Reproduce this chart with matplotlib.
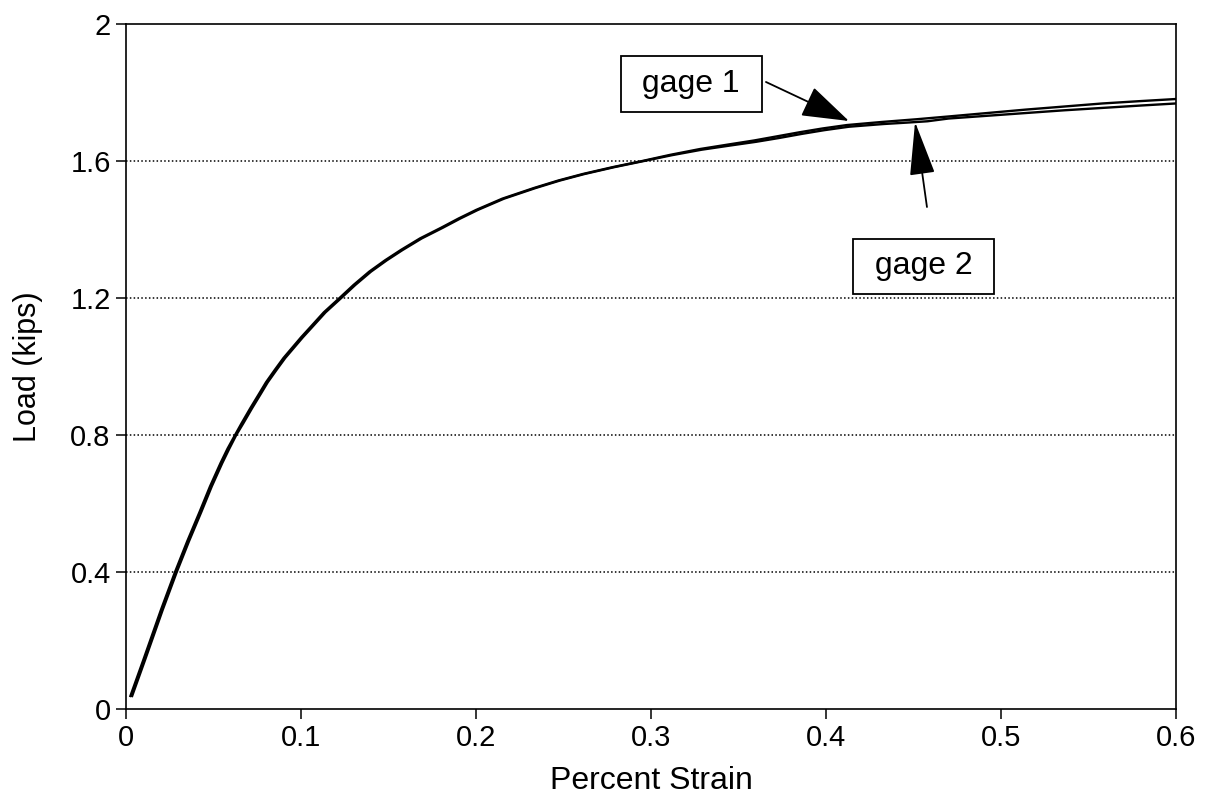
"""
Load vs percent strain for two strain gages
"""
import matplotlib.pyplot as plt

plt.rcParams['font.family'] = ['Liberation Sans', 'DejaVu Sans']

# gage readings (percent strain, load in kips)
strain_g1 = [0.0025, 0.010, 0.020, 0.028, 0.035, 0.042, 0.048, 0.054, 0.058,
             0.0623, 0.066, 0.071, 0.076, 0.080, 0.085, 0.090, 0.095, 0.100,
             0.105, 0.113, 0.122, 0.130, 0.139, 0.148, 0.157, 0.168, 0.180,
             0.190, 0.200, 0.215, 0.233, 0.247, 0.261, 0.278, 0.295, 0.311,
             0.328, 0.344, 0.359, 0.372, 0.385, 0.398, 0.412, 0.432, 0.452,
             0.470, 0.492, 0.514, 0.536, 0.558, 0.580, 0.600]
load_g1 = [0.038, 0.145, 0.29, 0.40, 0.49, 0.575, 0.650, 0.718, 0.760,
           0.80, 0.834, 0.878, 0.920, 0.954, 0.99, 1.025, 1.055, 1.085,
           1.113, 1.158, 1.20, 1.238, 1.277, 1.31, 1.340, 1.374, 1.405,
           1.432, 1.457, 1.49, 1.521, 1.543, 1.562, 1.582, 1.600, 1.618,
           1.635, 1.648, 1.660, 1.672, 1.684, 1.695, 1.705, 1.714, 1.722,
           1.730, 1.740, 1.750, 1.759, 1.768, 1.775, 1.781]

strain_g2 = [0.0035, 0.011, 0.021, 0.029, 0.036, 0.043, 0.049, 0.055, 0.059,
             0.0630, 0.067, 0.072, 0.077, 0.081, 0.086, 0.091, 0.096, 0.101,
             0.106, 0.114, 0.123, 0.131, 0.140, 0.149, 0.158, 0.169, 0.181,
             0.191, 0.201, 0.216, 0.234, 0.248, 0.262, 0.279, 0.296, 0.312,
             0.329, 0.345, 0.360, 0.373, 0.386, 0.399, 0.413, 0.433, 0.446,
             0.458, 0.470, 0.492, 0.514, 0.536, 0.558, 0.580, 0.600]
load_g2 = [0.038, 0.145, 0.29, 0.40, 0.49, 0.575, 0.650, 0.718, 0.760,
           0.80, 0.834, 0.878, 0.920, 0.954, 0.99, 1.025, 1.055, 1.085,
           1.113, 1.158, 1.20, 1.238, 1.277, 1.31, 1.340, 1.374, 1.405,
           1.432, 1.457, 1.49, 1.521, 1.543, 1.562, 1.582, 1.600, 1.617,
           1.633, 1.645, 1.656, 1.667, 1.679, 1.690, 1.700, 1.708, 1.712,
           1.716, 1.724, 1.732, 1.740, 1.748, 1.755, 1.762, 1.768]

x_ticks = [0, 0.1, 0.2, 0.3, 0.4, 0.5, 0.6]
x_labels = ['0', '0.1', '0.2', '0.3', '0.4', '0.5', '0.6']
y_ticks = [0, 0.4, 0.8, 1.2, 1.6, 2]
y_labels = ['0', '0.4', '0.8', '1.2', '1.6', '2']

fig = plt.figure(figsize=(12.06, 8), dpi=100)
ax = fig.add_axes([0.1045, 0.11375, 0.8706, 0.85625])

# dotted horizontal grid
for yv in y_ticks[1:-1]:
    ax.axhline(yv, color='black', lw=1.1, linestyle=(0, (1, 1.5)), zorder=1)

ax.plot(strain_g1, load_g1, color='black', lw=1.7, zorder=3)
ax.plot(strain_g2, load_g2, color='black', lw=1.7, zorder=3)

ax.set_xlim(0, 0.6)
ax.set_ylim(0, 2)
ax.set_xticks(x_ticks)
ax.set_xticklabels(x_labels)
ax.set_yticks(y_ticks)
ax.set_yticklabels(y_labels)
ax.tick_params(direction='out', length=7, width=1.1, labelsize=21, pad=4)
for sp in ax.spines.values():
    sp.set_linewidth(1.2)

ax.set_xlabel('Percent Strain', fontsize=23, labelpad=10)
ax.set_ylabel('Load (kips)', fontsize=22, labelpad=20)

# labels in boxes with separate arrows
box = dict(boxstyle='square,pad=0.4', fc='white', ec='black', lw=1.3)
ax.text(0.3229, 1.8248, ' gage 1 ', fontsize=23, ha='center', va='center',
        bbox=box, zorder=5)
ax.text(0.4557, 1.292, ' gage 2 ', fontsize=23, ha='center', va='center',
        bbox=box, zorder=5)

ax.annotate('', xy=(0.4131, 1.7168), xytext=(0.3657, 1.8307),
            arrowprops=dict(arrowstyle='-|>,head_length=1.5,head_width=0.5',
                            color='black', lw=1.3, mutation_scale=20,
                            shrinkA=0, shrinkB=0), zorder=6)
ax.annotate('', xy=(0.4509, 1.7139), xytext=(0.4577, 1.4657),
            arrowprops=dict(arrowstyle='-|>,head_length=1.7,head_width=0.4',
                            color='black', lw=1.3, mutation_scale=20,
                            shrinkA=0, shrinkB=0), zorder=6)

plt.savefig('out.png', dpi=100)
